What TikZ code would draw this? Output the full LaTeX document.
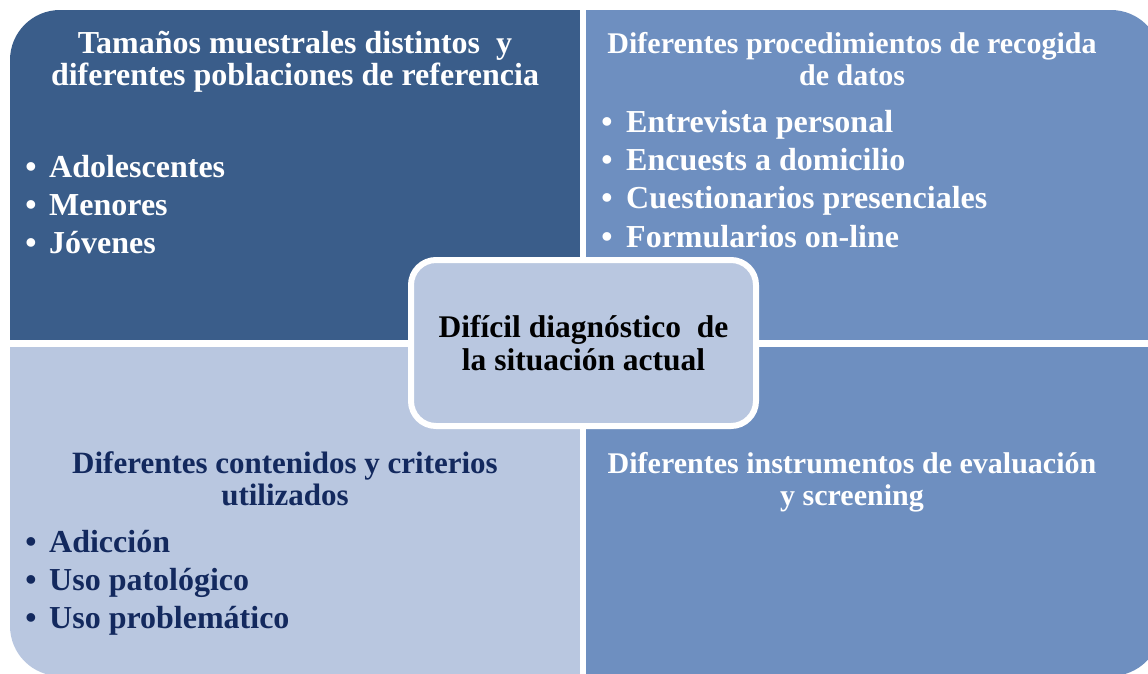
\documentclass[tikz,border=0pt]{standalone}
\usepackage{fontspec}
\setmainfont{Liberation Serif}
\definecolor{qdark}{HTML}{3A5D8A}
\definecolor{qmid}{HTML}{6E8FC0}
\definecolor{qlight}{HTML}{B9C7E0}
\definecolor{navy}{HTML}{13295E}
\tikzset{
  txt/.style={font=\bfseries\fontsize{32}{32}\selectfont, inner sep=0pt},
  head/.style={txt, align=center, anchor=base},
  headr/.style={head, font=\bfseries\fontsize{30}{32}\selectfont},
  headbl/.style={head, font=\bfseries\fontsize{31}{32}\selectfont},
  bul/.style={txt, anchor=base},
  itm/.style={txt, anchor=base west},
  centerbox/.style={draw=white, line width=6pt, fill=qlight, rounded corners=25pt,
    minimum width=345pt, minimum height=166pt, inner sep=0pt, align=center,
    font=\bfseries\fontsize{31.5}{33}\selectfont},
}
\begin{document}
\begin{tikzpicture}[x=1pt,y=-1pt]
\useasboundingbox (0,0) rectangle (1148,673);
\clip (0,0) rectangle (1148,673);
\begin{scope}
  \clip[rounded corners=50pt] (10,10) rectangle (1161,676);
  \fill[qdark]  (10,10)  rectangle (580,340);
  \fill[qmid]   (586,10) rectangle (1161,340);
  \fill[qlight] (10,347) rectangle (580,676);
  \fill[qmid]   (586,347) rectangle (1161,676);
\end{scope}

% top-left (anchor = baseline of the last line)
\node[head, white] (tlh) at (295,85) {Tamaños muestrales distintos\ \ y\\diferentes poblaciones de referencia};
\node[bul, white] (tlb1) at (31,177) {•};
\node[itm, white] (tli1) at (49,177) {Adolescentes};
\node[bul, white] (tlb2) at (31,215) {•};
\node[itm, white] (tli2) at (49,215) {Menores};
\node[bul, white] (tlb3) at (31,253) {•};
\node[itm, white] (tli3) at (49,253) {Jóvenes};

% top-right
\node[headr, white] (trh) at (852,85) {Diferentes procedimientos de recogida\\de datos};
\node[bul, white] (trb1) at (607,132) {•};
\node[itm, white] (tri1) at (626,132) {Entrevista personal};
\node[bul, white] (trb2) at (607,170) {•};
\node[itm, white] (tri2) at (626,170) {Encuests a domicilio};
\node[bul, white] (trb3) at (607,208) {•};
\node[itm, white] (tri3) at (626,208) {Cuestionarios presenciales};
\node[bul, white] (trb4) at (607,247) {•};
\node[itm, white] (tri4) at (626,247) {Formularios on-line};

% bottom-left
\node[headbl, navy] (blh) at (285,505) {Diferentes contenidos y criterios\\utilizados};
\node[bul, navy] (blb1) at (31,552) {•};
\node[itm, navy] (bli1) at (49,552) {Adicción};
\node[bul, navy] (blb2) at (31,590) {•};
\node[itm, navy] (bli2) at (49,590) {Uso patológico};
\node[bul, navy] (blb3) at (31,628) {•};
\node[itm, navy] (bli3) at (49,628) {Uso problemático};

% bottom-right
\node[headr, white] (brh) at (852,505) {Diferentes instrumentos de evaluación\\y screening};

% centre
\node[centerbox] (c) at (583.5,343) {Difícil diagnóstico\ \ de\\la situación actual};
\end{tikzpicture}
\end{document}
